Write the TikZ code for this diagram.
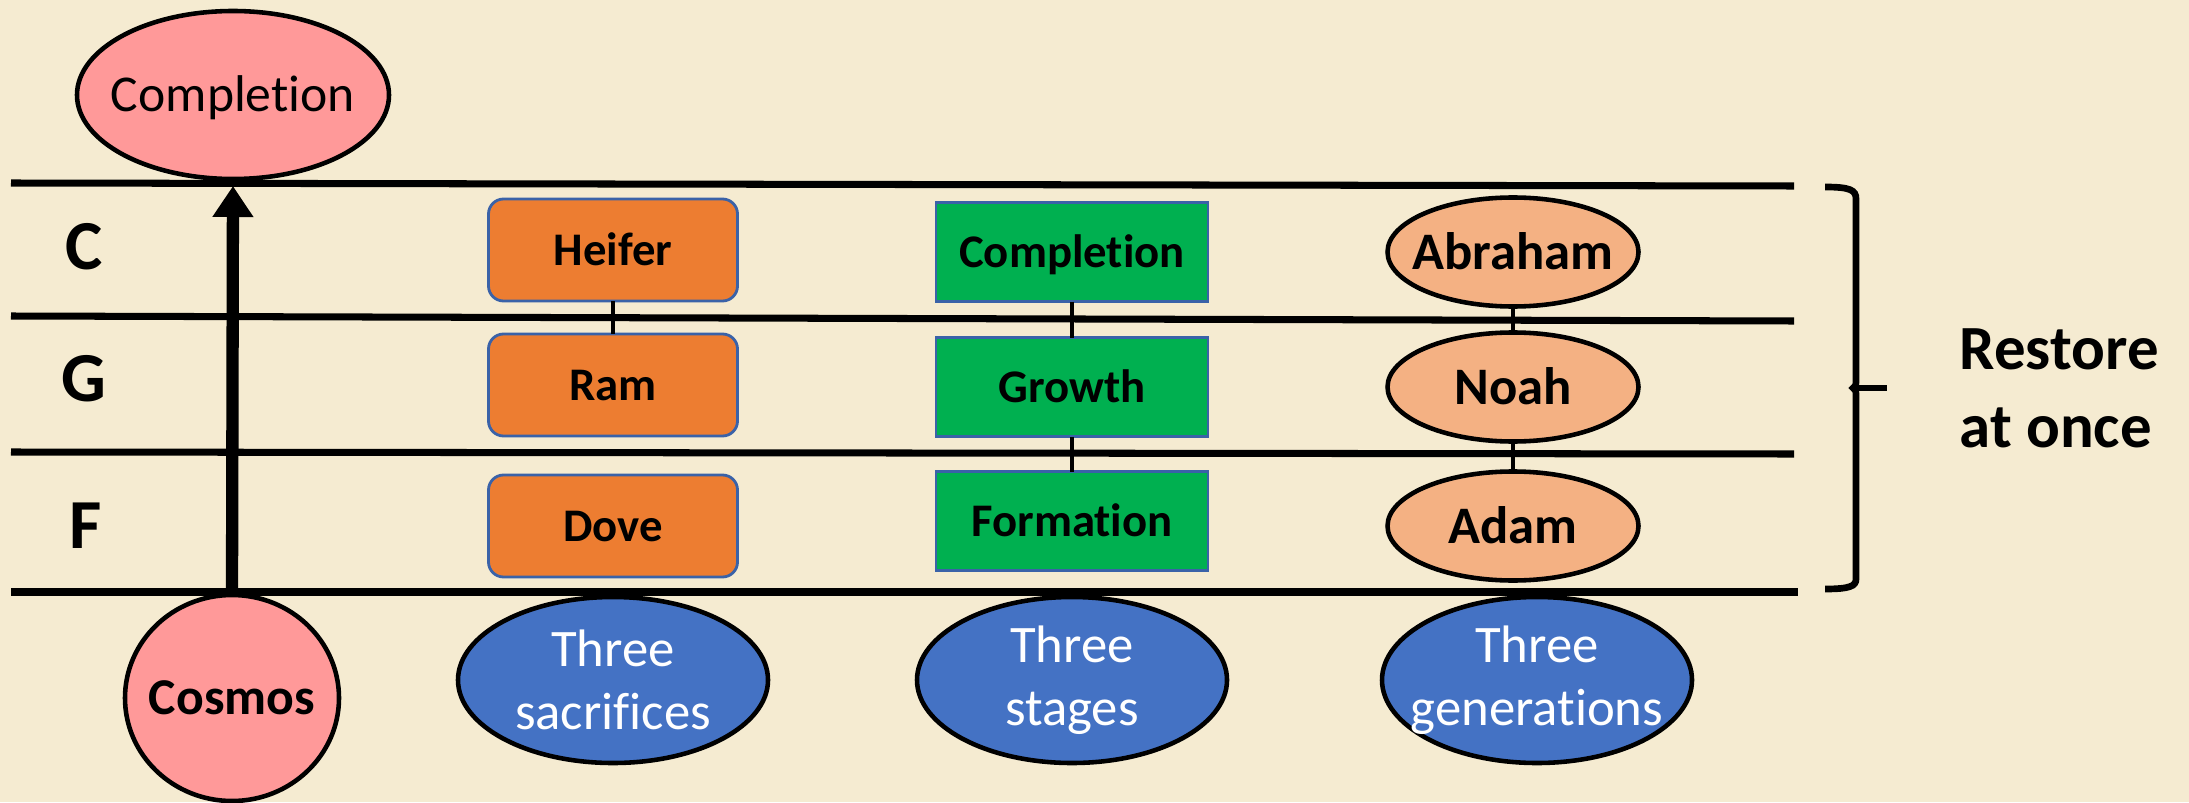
\documentclass[tikz,border=0pt]{standalone}
\usepackage{fontspec}
\setmainfont{Carlito}[Ligatures=NoCommon]
\usetikzlibrary{shapes.geometric, positioning, arrows.meta}
\definecolor{bgcream}{HTML}{F5EBD1}
\definecolor{pinkfill}{HTML}{FF9999}
\definecolor{orangefill}{HTML}{ED7D31}
\definecolor{greenfill}{HTML}{00B050}
\definecolor{peachfill}{HTML}{F4B183}
\definecolor{bluefill}{HTML}{4472C4}
\definecolor{boxedge}{HTML}{3A62A8}
\tikzset{
  bigoval/.style = {
    ellipse, draw, line width=1.3pt, fill=pinkfill,
    inner sep=-0.5cm, outer sep=0pt, text centered,
    text height=9.5pt, text depth=0pt,
  },
  sacrifice/.style = {
    rectangle, draw=boxedge, line width=0.8pt, fill=orangefill,
    minimum width=2.49cm, minimum height=1.02cm, outer sep=0pt,
    text centered, rounded corners=0.15cm,
    text height=8.6pt, text depth=0pt,
    font=\fontsize{13.3}{16}\selectfont\bfseries,
  },
  stagebox/.style = {
    rectangle, draw=boxedge, line width=0.8pt, fill=greenfill,
    minimum width=2.72cm, minimum height=0.99cm, outer sep=0pt,
    text centered, text height=8.6pt, text depth=0pt,
    font=\fontsize{13.3}{16}\selectfont\bfseries,
  },
  person/.style = {
    ellipse, draw, line width=1.3pt, fill=peachfill,
    minimum width=2.51cm, minimum height=1.09cm,
    inner sep=-0.4cm, outer sep=0pt,
    text centered, text height=9.7pt, text depth=0pt,
    font=\fontsize{15}{18}\selectfont\bfseries,
  },
  groupoval/.style = {
    ellipse, draw, line width=1.3pt, fill=bluefill,
    minimum width=3.1cm, minimum height=1.66cm, inner sep=-0.6cm,
    text=white, align=center, font=\fontsize{15}{18}\selectfont,
  },
  level/.style = {font=\fontsize{20}{24}\selectfont\bfseries},
  rule/.style = {line width=2pt},
  link/.style = {line width=1.4pt},
  arrow/.style = {line width=3.5pt, -{Triangle[length=0.31cm, width=0.39cm]}},
}

\begin{document}
\begin{tikzpicture}
    \fill[bgcream] (0,0) rectangle (21.89,8.02);
    \useasboundingbox (0,0) rectangle (21.89,8.02);

    % --- Level rules ---
    \draw[rule] (0.11,6.19) -- (17.94,6.16);
    \draw[rule] (0.11,4.86) -- (17.94,4.81);
    \draw[rule] (0.11,3.50) -- (17.94,3.48);
    \draw[rule] (0.11,2.10) -- (17.98,2.10);

    % --- Nodes ---
    \node[level] (lvlC) at (0.84,5.55) {C};
    \node[level] (lvlG) at (0.84,4.23) {G};
    \node[level] (lvlF) at (0.86,2.76) {F};

    \node[bigoval, minimum width=3.12cm, minimum height=1.68cm,
          font=\fontsize{14.7}{17}\selectfont] (goal) at (2.33,7.07) {Completion};
    \node[bigoval, minimum width=2.14cm, minimum height=2.06cm,
          font=\fontsize{14.7}{17}\selectfont\bfseries] (cosmos) at (2.32,1.04) {Cosmos};

    \node[sacrifice] (heifer) at (6.13,5.52) {Heifer};
    \node[sacrifice, below=0.33cm of heifer] (ram) {Ram};
    \node[sacrifice, below=0.39cm of ram] (dove) {Dove};

    \node[stagebox] (compl) at (10.72,5.50) {Completion};
    \node[stagebox, below=0.36cm of compl] (growth) {Growth};
    \node[stagebox, below=0.35cm of growth] (form) {Formation};

    \node[person] (abraham) at (15.13,5.50) {Abraham};
    \node[person, below=0.26cm of abraham] (noah) {Noah};
    \node[person, below=0.30cm of noah] (adam) {Adam};

    \node[groupoval] (sacr) at (6.13,1.22) {Three\\sacrifices};
    \node[groupoval] (stages) at (10.72,1.22) {Three\\stages};
    \node[groupoval] (gens) at (15.37,1.22) {Three\\generations};

    \node[align=left, anchor=west, inner sep=0pt,
          font=\fontsize{17.9}{22.2}\selectfont\bfseries]
        (restore) at (19.59,4.14) {Restore\\at once};

    % --- Links ---
    \draw[link] (heifer) -- (ram);
    \draw[link] (compl) -- (growth);
    \draw[link] (growth) -- (form);
    \draw[link] (abraham) -- (noah);
    \draw[link] (noah) -- (adam);

    % Cosmos rises to completion
    \draw[arrow, shorten >=0.07cm] (cosmos.north) -- (goal.south);

    % Brace over the three levels
    \coordinate (bracetop) at (18.25,6.15);
    \coordinate (bracemid) at (18.53,4.14);
    \coordinate (bracebot) at (18.25,2.13);
    \draw[line width=1.9pt]
        (bracetop) .. controls (18.50,6.15) and (18.56,6.12) .. (18.56,6.03)
        -- (18.56,4.24) .. controls (18.56,4.16) .. (bracemid)
        .. controls (18.56,4.12) .. (18.56,4.04)
        -- (18.56,2.23) .. controls (18.56,2.16) and (18.50,2.13) .. (bracebot);
    \draw[line width=1.9pt] (bracemid) -- (18.87,4.14);
\end{tikzpicture}
\end{document}
